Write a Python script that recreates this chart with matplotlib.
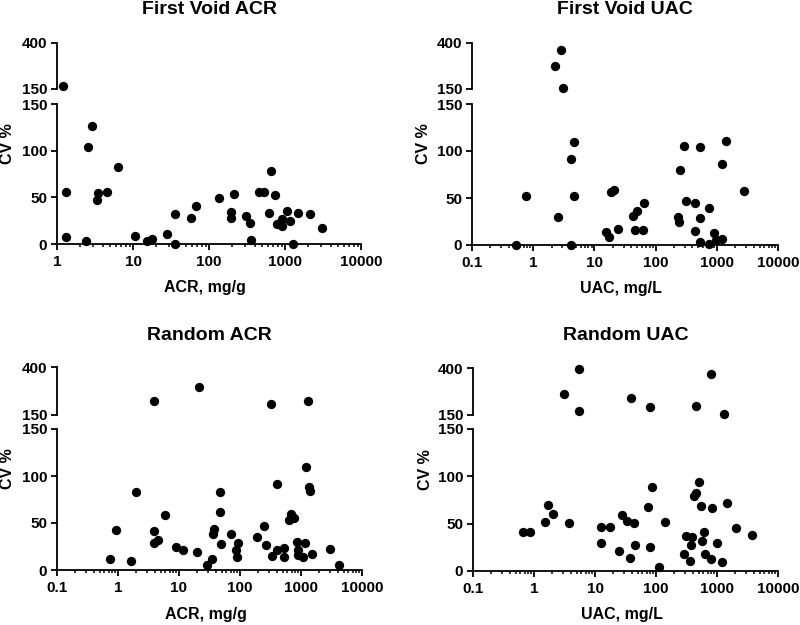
import numpy as np
import matplotlib.pyplot as plt
from matplotlib.ticker import LogLocator, NullFormatter, FixedLocator

plt.rcParams['font.family'] = ['Liberation Sans', 'DejaVu Sans']
plt.rcParams['font.weight'] = 'bold'

# First Void ACR
fv_acr_x = [1.21, 2.86, 2.58, 6.41, 1.31, 3.50, 4.50, 3.33, 1.31, 2.41, 10.7, 15.1, 17.9, 27.7,
            35.3, 35.3, 57.4, 67.4, 134, 195, 195, 215, 304, 350, 357, 455, 535, 648, 622, 747,
            777, 859, 922, 903, 1062, 1175, 1274, 1468, 2133, 3098]
fv_acr_y = [165, 126.7, 103.5, 83, 55.5, 54.4, 55.5, 47.3, 7.9, 2.9, 9, 3.6, 5, 11.1,
            32.6, 0.4, 28.3, 41.2, 49, 34.4, 27.6, 53.3, 29.7, 22.2, 4.7, 55.5, 55.5, 78, 32.9, 52.6,
            21.5, 21.5, 26.5, 19.3, 35.4, 24.7, 0.4, 32.9, 32.2, 17.2]

# First Void UAC
fv_uac_x = [2.85, 2.27, 3.07, 0.516, 0.773, 2.58, 4.15, 4.58, 4.64, 4.09, 15.7, 17.3, 18.9, 20.9,
            24.6, 43.3, 50.3, 45.5, 64.6, 61.5, 230, 241, 250, 288, 310, 434, 434, 538, 538, 538,
            746, 746, 912, 982, 1200, 1230, 1396, 2818]
fv_uac_y = [363, 276, 157, 0, 52, 29.3, 91, 109.6, 52, 0, 13.6, 8.2, 56, 58.6,
            17.5, 30.4, 35.7, 15.7, 44.6, 15.7, 30, 24.6, 80, 105.4, 46.4, 44.3, 14.6, 104.6, 29, 3.6,
            39.6, 0.7, 13.2, 5.7, 6.1, 86.4, 110.7, 57.9]

# Random ACR
r_acr_x = [3.89, 21.3, 327, 1303, 0.748, 0.94, 1.63, 1.97, 3.89, 3.84, 4.47, 5.89, 8.81, 11.5,
           19.5, 28.5, 34.4, 37, 35.6, 46.4, 47.6, 49.5, 71.2, 86, 89, 92.7, 192, 244, 270, 339,
           399, 409, 520, 533, 644, 686, 758, 850, 882, 904, 1065, 1207, 1178, 1352, 1422, 1514,
           2985, 4197]
r_acr_y = [221, 296, 205, 221, 11.4, 42.4, 9.6, 83, 42, 29.2, 32, 58.8, 24.2, 21,
           18.9, 5.7, 11.8, 43.1, 38.5, 82.7, 61.3, 27.8, 37.8, 21.4, 13.5, 28.5, 35.6, 46.3, 26.7, 14.6,
           91.9, 21.7, 13.9, 23.9, 52.7, 59.1, 54.9, 30.3, 21.7, 16.4, 13.5, 109.4, 29.2, 88.7, 84.1, 16.7,
           22.8, 5]

# Random UAC
r_uac_x = [5.51, 3.13, 5.37, 38.6, 80.2, 454, 789, 1321, 0.659, 0.847, 1.51, 1.69, 2.02, 3.73,
           12.5, 12.5, 17.3, 25.2, 27.2, 34.1, 36.8, 43.9, 45.5, 74.3, 81.2, 86.4, 114, 143, 289, 308,
           358, 372, 391, 421, 449, 502, 555, 570, 607, 638, 789, 820, 1015, 1195, 1461, 2027, 3804]
r_uac_y = [394.6, 262, 170, 240.6, 190, 197, 365.6, 155.4, 41.3, 41.3, 51.7, 69.8, 59.8, 50.2,
           47, 29.2, 47, 21.4, 59.1, 53.1, 13.5, 50.2, 27.4, 67.7, 25.3, 88.7, 4.3, 51.7, 17.8, 37,
           11, 27.8, 35.6, 78.7, 82.3, 94, 68.8, 32.1, 41.3, 17.8, 12.5, 67, 29.6, 9.3, 71.6, 45.6, 38.5]

xtick_vals = [0.1, 1, 10, 100, 1000, 10000]

W, H = 800, 625
fig = plt.figure(figsize=(8, 6.25), dpi=100)


def style(ax):
    for s in ['top', 'right']:
        ax.spines[s].set_visible(False)
    for s in ['left', 'bottom']:
        ax.spines[s].set_linewidth(1.3)
    ax.tick_params(which='major', length=4, width=1.3, labelsize=11, pad=3)
    ax.tick_params(which='minor', length=2.2, width=1.1)


def panel(x, y, x0, x1, left, right, ytop, ybrk1, ybrk2, ybot, title, xlabel, title_y, xlab_y, ylab_x):
    # top (150-400) and bottom (0-150) parts of the broken axis
    ax_t = fig.add_axes([left / W, 1 - ybrk1 / H, (right - left) / W, (ybrk1 - ytop) / H])
    ax_b = fig.add_axes([left / W, 1 - ybot / H, (right - left) / W, (ybot - ybrk2) / H])
    x = np.array(x)
    y = np.array(y)
    hi = y > 150
    for ax in (ax_t, ax_b):
        ax.set_xscale('log')
        ax.set_xlim(x0, x1)
        style(ax)
    ax_t.scatter(x[hi], y[hi], s=45, color='black', linewidths=0, clip_on=False, zorder=3)
    ax_b.scatter(x[~hi], y[~hi], s=45, color='black', linewidths=0, clip_on=False, zorder=3)
    ax_t.set_ylim(150, 400)
    ax_t.yaxis.set_major_locator(FixedLocator([150, 400]))
    ax_t.spines['bottom'].set_visible(False)
    ax_t.tick_params(axis='x', which='both', bottom=False, labelbottom=False)
    ax_b.set_ylim(0, 150)
    ax_b.set_yticks([0, 50, 100, 150])
    ax_b.xaxis.set_minor_locator(LogLocator(base=10, subs=np.arange(2, 10), numticks=20))
    ax_b.xaxis.set_minor_formatter(NullFormatter())
    ticks = [v for v in xtick_vals if v >= x0]
    ax_b.set_xticks(ticks)
    ax_b.set_xticklabels(['%g' % v for v in ticks])
    ax_b.tick_params(axis='x', pad=4)
    cx = (left + right) / 2 / W
    fig.text(cx, 1 - title_y / H, title, ha='center', va='center', fontsize=14, fontweight='bold')
    fig.text(cx - 0.005, 1 - xlab_y / H, xlabel, ha='center', va='center', fontsize=11.5, fontweight='bold')
    fig.text(ylab_x / W, 1 - (ytop + ybot) / 2 / H, 'CV %', ha='center', va='center',
             rotation=90, fontsize=11.5, fontweight='bold')


panel(fv_acr_x, fv_acr_y, 1, 10000, 57, 361, 43, 89, 104, 244,
      'First Void ACR', 'ACR, mg/g', 10, 287, 8)
panel(fv_uac_x, fv_uac_y, 0.1, 10000, 472, 778, 43, 89, 104, 245,
      'First Void UAC', 'UAC, mg/L', 10, 288, 423)
panel(r_acr_x, r_acr_y, 0.1, 10000, 57, 362, 367, 415, 429, 570,
      'Random ACR', 'ACR, mg/g', 335, 614, 8)
panel(r_uac_x, r_uac_y, 0.1, 10000, 473, 778, 368, 415, 429, 571,
      'Random UAC', 'UAC, mg/L', 335, 614, 425)

fig.savefig('out.png', dpi=100)
